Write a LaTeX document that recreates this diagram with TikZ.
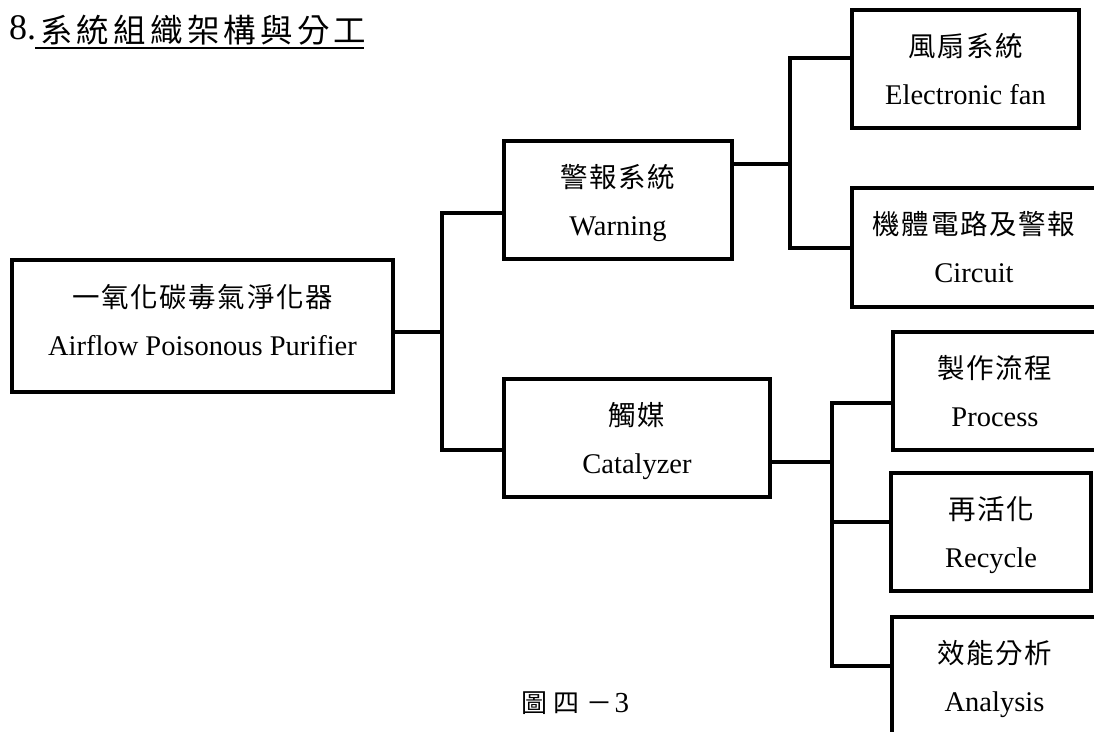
\documentclass[tikz,border=0pt]{standalone}
\usepackage{fontspec}
\setmainfont{Liberation Serif}
\newfontfamily\cjkbox[LetterSpace=6]{Noto Sans CJK TC}
\newfontfamily\cjktitle[LetterSpace=13]{Noto Sans CJK TC}
\newfontfamily\cjkcap[LetterSpace=26]{Noto Sans CJK TC}
\newcommand{\zhline}[1]{{\cjkbox\fontsize{27.5}{48}\selectfont #1}}
\begin{document}
\begin{tikzpicture}[x=1pt,y=-1pt,
  box/.style={draw, line width=4pt, rectangle, inner sep=0pt, align=center,
    font=\fontsize{28.5}{48}\selectfont, text height=76pt, text depth=6pt},
  rootbox/.style={box, text height=64pt},
  link/.style={line width=3.5pt, line join=miter}]
\clip (0,0) rectangle (1094,731);
% title
\node[anchor=base west, inner sep=0pt] (t8) at (9,39) {\fontsize{36}{36}\selectfont 8.};
\node[anchor=base west, inner sep=0pt] (tzh) at (40,42) {\cjktitle\fontsize{32.5}{32.5}\selectfont 系統組織架構與分工};
\draw[line width=2.5pt] ([xshift=-5pt,yshift=-6pt]tzh.base west) -- ([xshift=-3pt,yshift=-6pt]tzh.base east);
% boxes
\node[rootbox, minimum width=381pt, minimum height=132pt] (root) at (202.5,326) {\zhline{一氧化碳毒氣淨化器}\\Airflow Poisonous Purifier};
\node[box, minimum width=228pt, minimum height=118pt] (warn) at (618,200) {\zhline{警報系統}\\Warning};
\node[box, minimum width=266pt, minimum height=118pt] (cat) at (637,438) {\zhline{觸媒}\\Catalyzer};
\node[box, minimum width=227pt, minimum height=118pt] (fan) at (965.5,69) {\zhline{風扇系統}\\Electronic fan};
\node[box, minimum width=244pt, minimum height=119pt] (circ) at (974,247.5) {\zhline{機體電路及警報}\\Circuit};
\node[box, minimum width=204pt, minimum height=118pt] (proc) at (995,391) {\zhline{製作流程}\\Process};
\node[box, minimum width=200pt, minimum height=118pt] (recy) at (991,532) {\zhline{再活化}\\Recycle};
\node[box, minimum width=205pt, minimum height=118pt] (anal) at (994.5,676) {\zhline{效能分析}\\Analysis};
% caption
\node[anchor=base west, inner sep=0pt] (cap) at (521,712) {{\cjkcap\fontsize{26}{26}\selectfont 圖四－}\hspace{2pt}\fontsize{29}{29}\selectfont 3};
% connectors
\coordinate (ra) at (442,332);
\coordinate (ta) at (442,213);
\coordinate (tb) at (442,450);
\draw[link] (root.east |- ra) -- (ra);
\draw[link] (warn.west |- ta) -- (ta) -- (tb) -- (cat.west |- tb);
\coordinate (wa) at (790,164);
\coordinate (wb) at (790,58);
\coordinate (wc) at (790,248);
\draw[link] (warn.east |- wa) -- (wa);
\draw[link] (fan.west |- wb) -- (wb) -- (wc) -- (circ.west |- wc);
\coordinate (ca) at (832,462);
\coordinate (cb) at (832,403);
\coordinate (cc) at (832,522);
\coordinate (cd) at (832,666);
\draw[link] (cat.east |- ca) -- (ca);
\draw[link] (proc.west |- cb) -- (cb) -- (cd) -- (anal.west |- cd);
\draw[link] (cc) -- (recy.west |- cc);
\end{tikzpicture}
\end{document}
